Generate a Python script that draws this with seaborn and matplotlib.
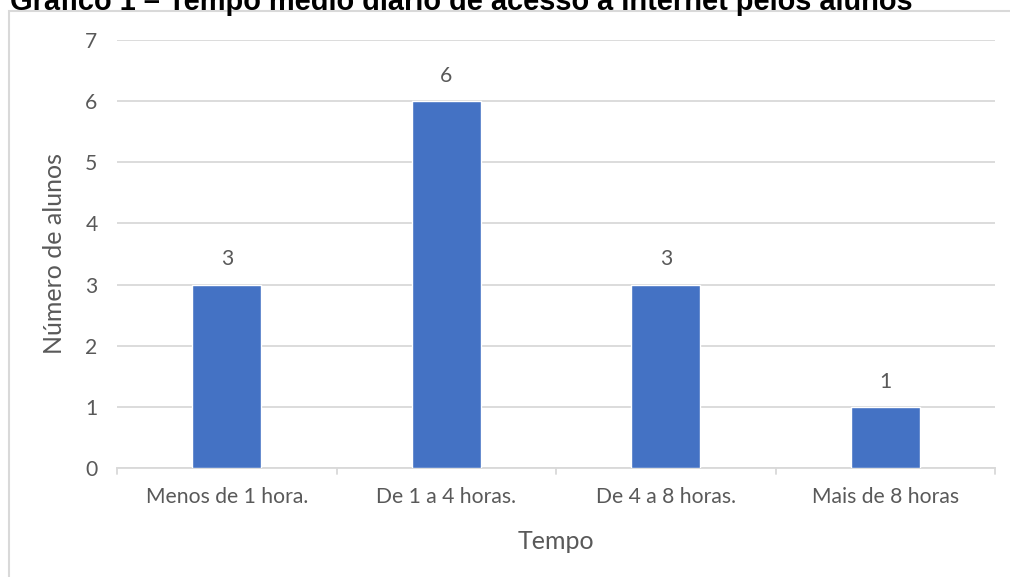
import matplotlib
matplotlib.use("Agg")
import matplotlib.pyplot as plt
import seaborn as sns
import pandas as pd
from matplotlib.patches import Rectangle

categorias = ["Menos de 1 hora.", "De 1 a 4 horas.", "De 4 a 8 horas.", "Mais de 8 horas"]
alunos = [3, 6, 3, 1]
y_ticks = [0, 1, 2, 3, 4, 5, 6, 7]

titulo = "Gráfico 1 – Tempo médio diário de acesso à Internet pelos alunos"
rotulo_x = "Tempo"
rotulo_y = "Número de alunos"

sns.set_theme(style="white")
plt.rcParams["font.family"] = ["Lato", "DejaVu Sans"]

W, H = 1010, 577
fig = plt.figure(figsize=(W / 100, H / 100), dpi=100)
ax = fig.add_axes([117 / W, 1 - 468 / H, (995 - 117) / W, (468 - 40) / H])

df = pd.DataFrame({"Tempo": categorias, "Alunos": alunos})
sns.barplot(data=df, x="Tempo", y="Alunos", color="#4472C4", width=0.315,
            saturation=1, ax=ax, zorder=3)

txt = "#595959"
grid = "#D9D9D9"
ax.set_ylim(0, 7)
ax.set_xlim(-0.5, len(categorias) - 0.5)
ax.set_yticks(y_ticks)
ax.yaxis.grid(True, color=grid, linewidth=1.3, zorder=0)
ax.set_axisbelow(True)
for s in ["top", "right", "left"]:
    ax.spines[s].set_visible(False)
ax.spines["bottom"].set_color(grid)
ax.spines["bottom"].set_linewidth(1.3)
ax.tick_params(axis="y", length=0, pad=14, labelsize=15.2, labelcolor=txt)
ax.tick_params(axis="x", length=0, pad=14, labelsize=15.2, labelcolor=txt)

# category separators below the axis
for b in [i - 0.5 for i in range(len(categorias) + 1)]:
    ax.plot([b, b], [0, -0.1], color=grid, linewidth=1.3, clip_on=False)

for i, v in enumerate(alunos):
    ax.annotate(str(v), (i, v), xytext=(0, 11), textcoords="offset points",
                ha="center", va="bottom", fontsize=15.2, color=txt)

ax.set_xlabel(rotulo_x, fontsize=18, color=txt, labelpad=16)
ax.set_ylabel(rotulo_y, fontsize=18, color=txt, labelpad=14)

fig.add_artist(Rectangle((9 / W, -0.1), 1.2, 1 - 11 / H + 0.1,
                         transform=fig.transFigure, fill=False,
                         edgecolor="#D9D9D9", linewidth=1.5))
fig.text(10 / W, 1 - 10 / H, titulo, fontsize=20.9, fontweight="bold",
         family=["Liberation Sans", "DejaVu Sans"], color="black",
         ha="left", va="baseline")

fig.savefig("out.png", dpi=100)
